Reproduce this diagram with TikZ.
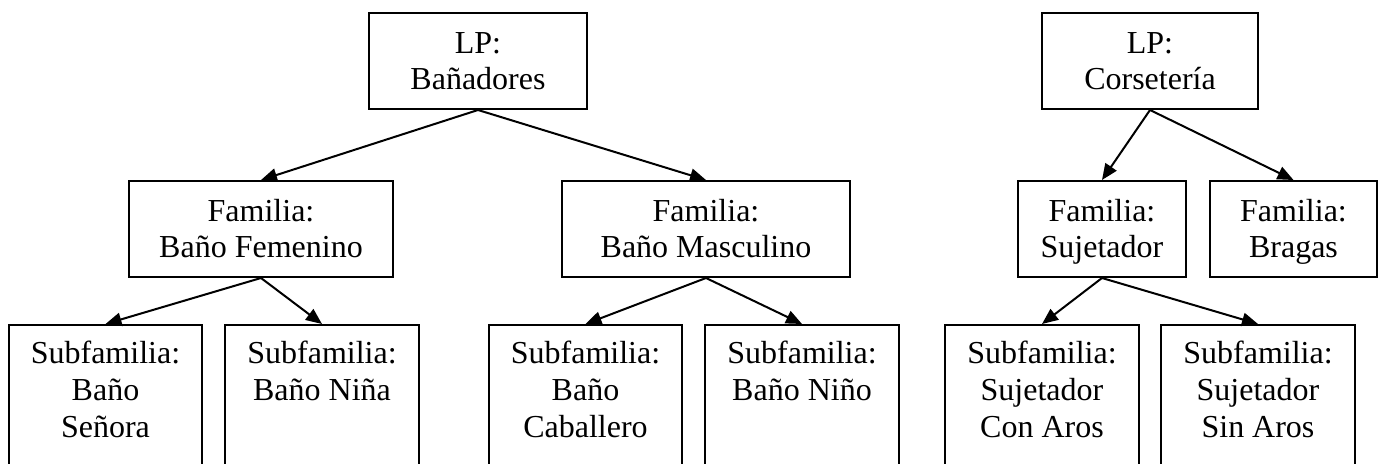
\documentclass[tikz,border=0pt]{standalone}
\usepackage{fontspec}
\setmainfont{Liberation Serif}
\usetikzlibrary{arrows.meta,positioning}
\newcommand{\pila}[1]{\begin{tabular}[t]{@{}c@{}}#1\end{tabular}}

\begin{document}
\begin{tikzpicture}[x=0.375pt,y=-0.375pt,
	caja/.style={draw,line width=0.75pt,anchor=north,inner xsep=2pt,inner ysep=0pt,text height=15pt,text depth=21pt,font=\fontsize{12}{13.8}\selectfont},
	subcaja/.style={caja,minimum width=72.4pt,text height=14.6pt,text depth=70pt},
	flecha/.style={line width=0.75pt,-{Triangle[length=6pt,width=5pt]}}]
	\useasboundingbox (0,0) rectangle (1378,464);
	\clip (0,0) rectangle (1378,464);
	% lineas de producto
	\node[caja,minimum width=81.75pt] (lpBan) at (478,12) {\pila{LP:\\Bañadores}};
	\node[caja,minimum width=81pt] (lpCor) at (1150,12) {\pila{LP:\\Corsetería}};
	% familias
	\node[caja,minimum width=99pt] (famFem) at (261,180) {\pila{Familia:\\Baño Femenino}};
	\node[caja,minimum width=108pt] (famMas) at (706,180) {\pila{Familia:\\Baño Masculino}};
	\node[caja,minimum width=63pt] (famSuj) at (1102,180) {\pila{Familia:\\Sujetador}};
	\node[caja,minimum width=62.6pt] (famBra) at (1293.5,180) {\pila{Familia:\\Bragas}};
	% subfamilias
	\node[subcaja] (subSen) at (105.5,324) {\pila{Subfamilia:\\Baño\\Señora}};
	\node[subcaja] (subNia) at (322,324) {\pila{Subfamilia:\\Baño Niña}};
	\node[subcaja] (subCab) at (585.5,324) {\pila{Subfamilia:\\Baño\\Caballero}};
	\node[subcaja] (subNio) at (802,324) {\pila{Subfamilia:\\Baño Niño}};
	\node[subcaja] (subCon) at (1042,324) {\pila{Subfamilia:\\Sujetador\\Con Aros}};
	\node[subcaja] (subSin) at (1258,324) {\pila{Subfamilia:\\Sujetador\\Sin Aros}};
	%
	\draw[flecha] (lpBan.south) -- (famFem.north);
	\draw[flecha] (lpBan.south) -- (famMas.north);
	\draw[flecha] (lpCor.south) -- (famSuj.north);
	\draw[flecha] (lpCor.south) -- (famBra.north);
	\draw[flecha] (famFem.south) -- (subSen.north);
	\draw[flecha] (famFem.south) -- (subNia.north);
	\draw[flecha] (famMas.south) -- (subCab.north);
	\draw[flecha] (famMas.south) -- (subNio.north);
	\draw[flecha] (famSuj.south) -- (subCon.north);
	\draw[flecha] (famSuj.south) -- (subSin.north);
\end{tikzpicture}
\end{document}
